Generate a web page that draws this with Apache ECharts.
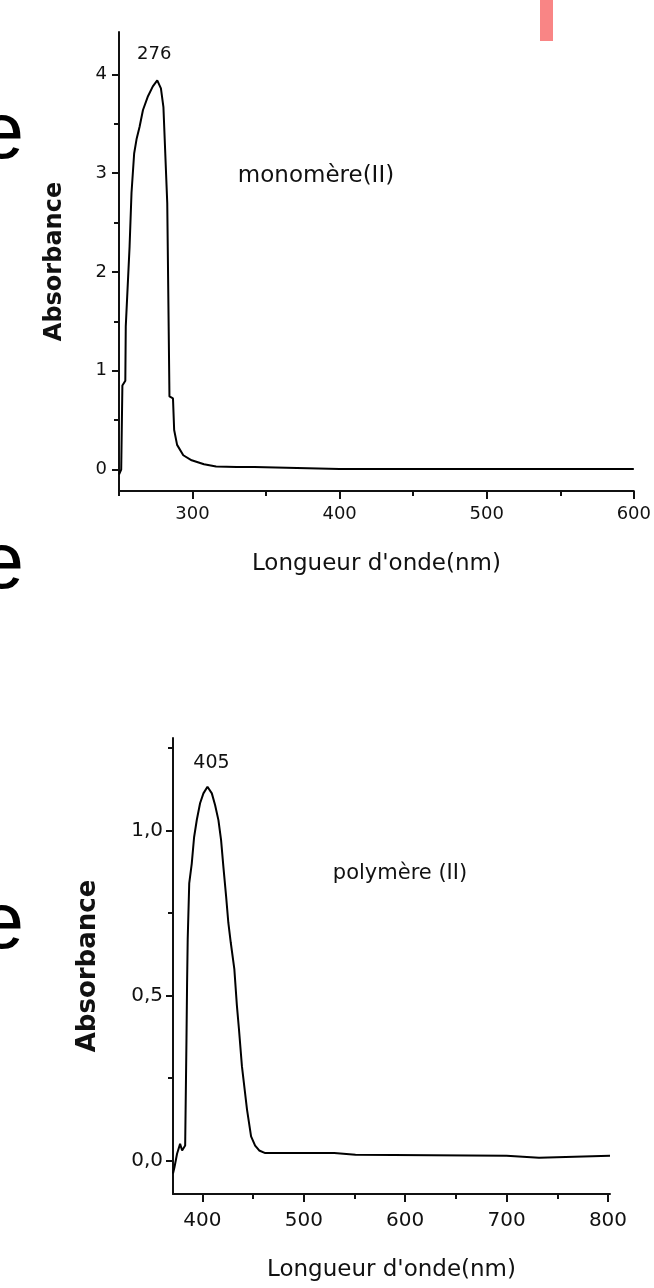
<!DOCTYPE html>
<html>
<head>
<meta charset="utf-8">
<script src="https://cdn.jsdelivr.net/npm/echarts@6/dist/echarts.min.js"></script>
<style>
html,body{margin:0;padding:0;background:#fff;}
#chart{width:654px;height:1288px;}
</style>
</head>
<body>
<div id="chart"></div>
<script>
// ---- Data: monomère (II) spectrum ----
const monoWavelength = [250, 251.5, 252.3, 254.3, 254.6, 257.2, 258.5, 260.3, 262, 264, 266.3, 269.7, 273, 276, 278.5, 280.2, 282.8, 283.8, 284.3, 286.7, 287.5, 289.5, 293.7, 299.4, 307.8, 316, 330, 342, 343, 400, 500, 600];
const monoAbsorbance = [-0.05, 0.0, 0.85, 0.9, 1.45, 2.26, 2.8, 3.2, 3.35, 3.47, 3.64, 3.78, 3.88, 3.94, 3.86, 3.67, 2.7, 1.4, 0.74, 0.72, 0.40, 0.25, 0.145, 0.094, 0.054, 0.03, 0.027, 0.025, 0.006, 0.005, 0.005, 0.005];

// ---- Data: polymère (II) spectrum ----
const polyWavelength = [371, 372.5, 375, 378, 380, 383, 384, 384.3, 384.9, 385.5, 387, 389.5, 391.8, 394.5, 397.7, 401, 405, 409.3, 412.5, 415.8, 418.4, 420.7, 423.4, 425.6, 428, 431.5, 434, 436, 439, 444, 448, 452, 456, 462, 530, 551, 700, 701, 732, 733, 802];
const polyAbsorbance = [-0.04, -0.02, 0.02, 0.05, 0.03, 0.045, 0.05, 0.37, 0.54, 0.67, 0.84, 0.90, 0.98, 1.033, 1.083, 1.113, 1.133, 1.113, 1.078, 1.032, 0.972, 0.89, 0.80, 0.72, 0.66, 0.58, 0.47, 0.40, 0.285, 0.154, 0.073, 0.045, 0.03, 0.022, 0.022, 0.017, 0.014, 0.008, 0.008, 0.014, 0.014];

// ---- Tick labels ----
const monoXTicks = [300, 400, 500, 600];
const monoXMinor = [250, 350, 450, 550];
const monoYTicks = [0, 1, 2, 3, 4];
const monoYMinor = [0.5, 1.5, 2.5, 3.5];
const polyXTicks = [400, 500, 600, 700, 800];
const polyXMinor = [450, 550, 650, 750];
const polyYTicks = [0, 0.5, 1.0];
const polyYMinor = [0.25, 0.75, 1.25];

// ---- Annotations ----
const monoPeak = [276, 3.94];
const polyPeak = [405, 1.133];
const monoName = 'monomère(II)';
const polyName = 'polymère (II)';
const xTitle = "Longueur d'onde(nm)";
const yTitle = 'Absorbance';

const FONT = 'DejaVu Sans';
const INK = '#111';

function zip(a, b) { return a.map((v, i) => [v, b[i]]); }

function xAxisPair(gridIndex, min, max, major, minor, labelSize, margin, nameGap) {
  return [
    {
      type: 'value', gridIndex, min, max, position: 'bottom',
      axisLine: { show: true, onZero: false, lineStyle: { color: INK, width: 2 } },
      axisTick: { show: true, customValues: major, length: 8, lineStyle: { color: INK, width: 2 } },
      axisLabel: { customValues: major, color: INK, fontFamily: FONT, fontSize: labelSize, margin },
      splitLine: { show: false },
      name: xTitle, nameLocation: 'middle', nameGap,
      nameTextStyle: { fontFamily: FONT, fontSize: 23, color: INK }
    },
    {
      type: 'value', gridIndex, min, max, position: 'bottom',
      axisLine: { show: false, onZero: false },
      axisTick: { show: true, customValues: minor, length: 5, lineStyle: { color: INK, width: 2 } },
      axisLabel: { show: false },
      splitLine: { show: false }
    }
  ];
}

function yAxisPair(gridIndex, min, max, major, minor, labelSize, margin, nameGap, nameSize, fmt) {
  return [
    {
      type: 'value', gridIndex, min, max, position: 'left',
      axisLine: { show: true, onZero: false, lineStyle: { color: INK, width: 2 } },
      axisTick: { show: true, customValues: major, length: 7, lineStyle: { color: INK, width: 2 } },
      axisLabel: { customValues: major, color: INK, fontFamily: FONT, fontSize: labelSize, margin, formatter: fmt },
      splitLine: { show: false },
      name: yTitle, nameLocation: 'middle', nameGap,
      nameTextStyle: { fontFamily: FONT, fontSize: nameSize, fontWeight: 'bold', color: INK }
    },
    {
      type: 'value', gridIndex, min, max, position: 'left',
      axisLine: { show: false, onZero: false },
      axisTick: { show: true, customValues: minor, length: 5, lineStyle: { color: INK, width: 2 } },
      axisLabel: { show: false },
      splitLine: { show: false }
    }
  ];
}

const chart = echarts.init(document.getElementById('chart'));

const option = {
  backgroundColor: '#fff',
  animation: false,
  grid: [
    { left: 119, top: 32, width: 521, height: 459 },
    { left: 173, top: 738, width: 437, height: 456 }
  ],
  xAxis: [
    ...xAxisPair(0, 250, 600, monoXTicks, monoXMinor, 18, 14, 62),
    ...xAxisPair(1, 371, 802, polyXTicks, polyXMinor, 20, 17, 65)
  ],
  yAxis: [
    ...yAxisPair(0, -0.217, 4.43, monoYTicks, monoYMinor, 18, 12, 52, 24, v => String(v)),
    ...yAxisPair(1, -0.102, 1.281, polyYTicks, polyYMinor, 20, 10, 72, 26, v => v.toFixed(1).replace('.', ','))
  ],
  series: [
    {
      type: 'line', xAxisIndex: 0, yAxisIndex: 0,
      data: zip(monoWavelength, monoAbsorbance),
      showSymbol: false, smooth: false,
      lineStyle: { color: '#000', width: 2 },
      markPoint: {
        symbol: 'circle', symbolSize: 0, silent: true,
        data: [{ coord: monoPeak, value: '276' }],
        label: { show: true, position: 'inside', offset: [-3, -26], formatter: '276', color: INK, fontFamily: FONT, fontSize: 18 }
      }
    },
    {
      type: 'line', xAxisIndex: 2, yAxisIndex: 2,
      data: zip(polyWavelength, polyAbsorbance),
      showSymbol: false, smooth: false,
      lineStyle: { color: '#000', width: 2 },
      markPoint: {
        symbol: 'circle', symbolSize: 0, silent: true,
        data: [{ coord: polyPeak, value: '405' }],
        label: { show: true, position: 'inside', offset: [4, -24], formatter: '405', color: INK, fontFamily: FONT, fontSize: 19 }
      }
    }
  ],
  graphic: [
    { type: 'text', x: 316, y: 176, style: { text: monoName, font: '23px "DejaVu Sans"', fill: INK, align: 'center', verticalAlign: 'middle' } },
    { type: 'text', x: 400, y: 874, style: { text: polyName, font: '21px "DejaVu Sans"', fill: INK, align: 'center', verticalAlign: 'middle' } },
    { type: 'rect', shape: { x: 540, y: 0, width: 13, height: 41 }, style: { fill: '#f98585' } },
    { type: 'text', x: 24, y: 136, style: { text: 'e', font: '80px "Liberation Sans"', fill: '#000', align: 'right', verticalAlign: 'middle' } },
    { type: 'text', x: 24, y: 566, style: { text: 'e', font: '80px "Liberation Sans"', fill: '#000', align: 'right', verticalAlign: 'middle' } },
    { type: 'text', x: 24, y: 926, style: { text: 'e', font: '80px "Liberation Sans"', fill: '#000', align: 'right', verticalAlign: 'middle' } }
  ]
};

chart.setOption(option);
</script>
</body>
</html>
